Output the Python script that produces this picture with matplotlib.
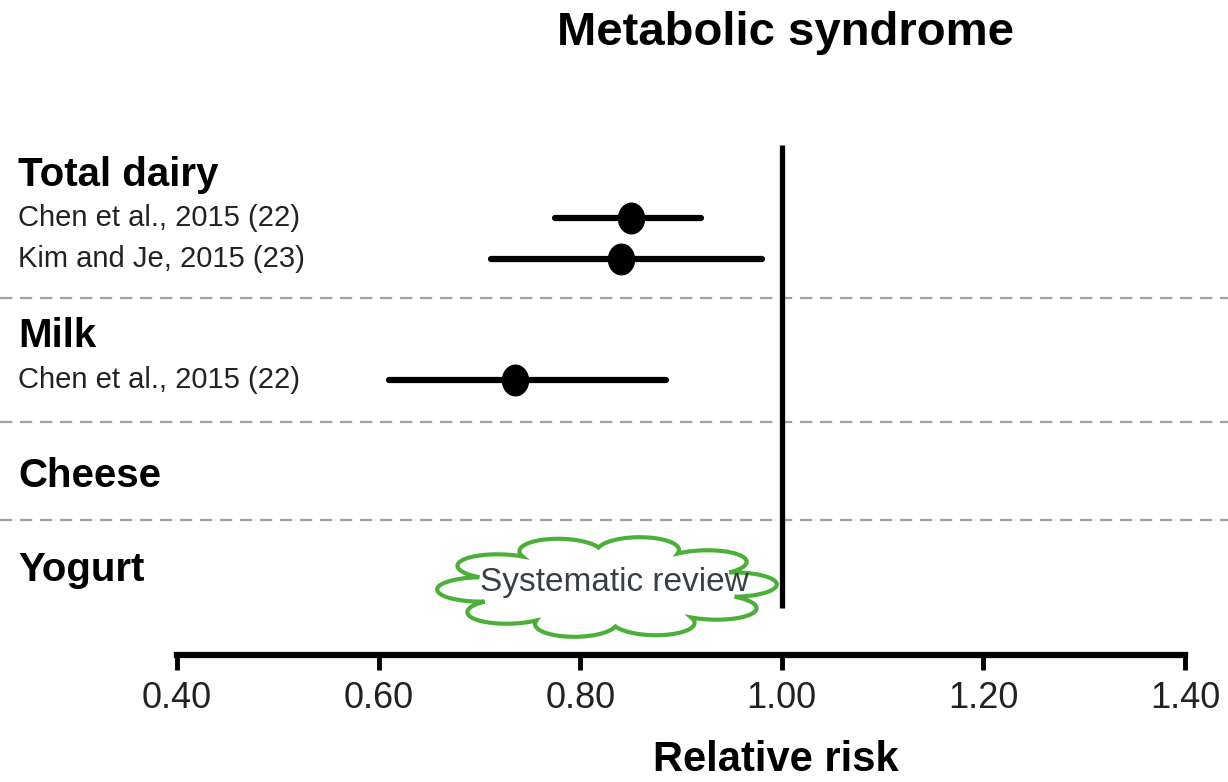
import numpy as np
import matplotlib.pyplot as plt
from matplotlib.path import Path
from matplotlib.transforms import blended_transform_factory

plt.rcParams['font.family'] = ['Liberation Sans', 'DejaVu Sans']

# Data
groups = ['Total dairy', 'Milk', 'Cheese', 'Yogurt']
studies = ['Chen et al., 2015 (22)', 'Kim and Je, 2015 (23)', 'Chen et al., 2015 (22)']
rr = [0.85, 0.84, 0.735]
ci_low = [0.775, 0.712, 0.61]
ci_high = [0.92, 0.98, 0.885]
xticks = [0.40, 0.60, 0.80, 1.00, 1.20, 1.40]

# Layout (pixel rows from top)
group_y = [175, 336, 476, 570]
study_y = [218, 259, 380]
divider_y = [298, 422, 520]

W, H = 1228, 782
fig = plt.figure(figsize=(W / 100, H / 100), dpi=100)
ax = fig.add_axes([177 / W, 1 - 655 / H, (1185 - 177) / W, (655 - 100) / H])
ax.set_xlim(0.4, 1.4)
ax.set_ylim(655, 100)

# separators across the whole figure width
trans = blended_transform_factory(fig.transFigure, ax.transData)
for y in divider_y:
    ax.plot([0, 1], [y, y], transform=trans, color='#a0a0a0', lw=1.6,
            ls=(0, (5.5, 3.5)), clip_on=False)

# line of no effect
ax.plot([1.0, 1.0], [145, 608], color='black', lw=3.8, solid_capstyle='butt')

# estimates (slightly tall oval markers)
t = np.linspace(0, 2 * np.pi, 60)
oval = Path(np.column_stack([0.85 * np.cos(t), np.sin(t)]), closed=True)
ax.hlines(study_y, ci_low, ci_high, color='black', lw=4.5, capstyle='round')
ax.plot(rr, study_y, ls='none', marker=oval, color='black', ms=22)

# row labels
for g, y in zip(groups, group_y):
    ax.text(18 / W, y, g, transform=trans, fontsize=29, fontweight='bold',
            va='center', ha='left')
for s, y in zip(studies, study_y):
    ax.text(18 / W, y, s, transform=trans, fontsize=21, va='center',
            ha='left', color='#222222')

for side in ['left', 'top', 'right']:
    ax.spines[side].set_visible(False)
ax.spines['bottom'].set_linewidth(4.5)
ax.set_yticks([])
ax.set_xticks(xticks, [f'{t:.2f}' for t in xticks])
ax.tick_params(axis='x', length=11, width=3.5, labelsize=26, pad=8,
               labelcolor='#222222')

fig.text(786 / W, 1 - 33 / H, 'Metabolic syndrome', fontsize=34,
         fontweight='bold', ha='center', va='center')
fig.text(776 / W, 1 - 760 / H, 'Relative risk', fontsize=30,
         fontweight='bold', ha='center', va='center')

# cloud callout: lobes on a unit circle, then stretched into an ellipse
ov = fig.add_axes([0, 0, 1, 1], zorder=3)
ov.set_xlim(0, W)
ov.set_ylim(H, 0)
ov.axis('off')
cx, cy, nlobes = 607, 587, 10
a, b = 170 / 1.29, 51 / 1.29
ang = np.linspace(0, 2 * np.pi, nlobes + 1)[:-1] + 0.25
pts = np.column_stack([np.cos(ang), np.sin(ang)])
phi = np.linspace(0, np.pi, 30)
outline = []
for i in range(nlobes):
    p0, p1 = pts[i], pts[(i + 1) % nlobes]
    m = (p0 + p1) / 2
    r = np.linalg.norm(p1 - p0) / 2
    u = (p0 - m) / r
    nrm = m / np.linalg.norm(m)
    outline.append(m + r * (np.outer(np.cos(phi), u) + 1.1 * np.outer(np.sin(phi), nrm)))
outline = np.vstack(outline)
ov.fill(cx + a * outline[:, 0], cy + b * outline[:, 1], facecolor='white',
        edgecolor='#4caf3a', lw=3)
ov.text(614, 582, 'Systematic review', fontsize=24, color='#3a3f44',
        ha='center', va='center')

fig.savefig('out.png', dpi=100)
